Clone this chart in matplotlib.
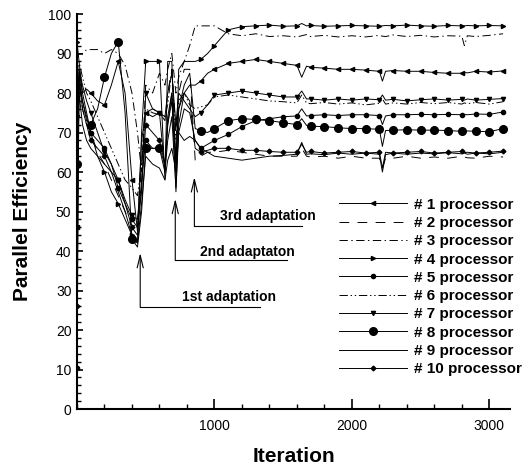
import matplotlib.pyplot as plt
from matplotlib.ticker import MultipleLocator

plt.rcParams['font.family'] = ['Liberation Sans', 'DejaVu Sans']
plt.rcParams['lines.scale_dashes'] = False

# iteration numbers where efficiency was sampled
iters = [0, 15, 40, 70, 100, 150, 200, 250, 300, 350, 400, 440, 470, 500, 550,
         600, 640, 660, 690, 720, 740, 780, 820, 860, 900, 950,
         1000, 1100, 1200, 1300, 1400, 1500, 1600, 1635, 1670, 1700, 1800, 1900,
         2000, 2100, 2200, 2222, 2245, 2300, 2400, 2500, 2600, 2700, 2800, 2818,
         2840, 2900, 3000, 3100]

p1 = [46, 86, 80, 81, 80, 78, 77, 82, 88, 80, 58, 45, 68, 75, 74, 75, 60, 72, 78, 62, 76, 80, 82, 82, 83, 85,
      86, 87.5, 88, 88.5, 88, 87.5, 87, 84, 86.8, 86.5, 86.3, 86, 86, 85.8, 85.5, 83, 85.5, 85.7, 85.5, 85.5,
      85.2, 85, 85, 85.2, 85.1, 85.5, 85.3, 85.6]
p2 = [82, 84, 76, 72, 70, 65, 62, 58, 54, 50, 46, 47, 62, 75, 76, 75, 73, 80, 86, 70, 80, 86, 86, 63, 64, 65,
      65, 65.5, 65, 64.5, 64, 64, 64, 66, 64, 63.8, 64, 63.5, 64, 63.5, 63.5, 61, 63.5, 63.5, 64, 63.5,
      63.8, 63.5, 64, 63.8, 63.6, 63.5, 64, 63.8]
p3 = [89, 90, 90, 91, 91, 91, 90, 91, 90, 87, 80, 70, 60, 82, 80, 85, 82, 86, 90, 80, 84, 88, 92, 97, 97, 97,
      97, 95, 94.5, 95, 94.3, 94.5, 94.2, 94.5, 94.8, 94.3, 94.6, 94.2, 94.5, 94.2, 94.6, 94.4, 94.3, 94.7,
      94.3, 94.6, 94.2, 94.5, 94.4, 92, 94.5, 94.3, 94.6, 95]
p4 = [93, 88, 80, 75, 70, 64, 60, 55, 52, 48, 44, 42, 70, 88, 88, 88, 58, 88, 88, 60, 86, 88, 88, 88, 88.5, 90,
      92, 96, 96.8, 97, 97.2, 96.9, 97, 97.6, 97, 97.1, 96.9, 97, 97.1, 97, 96.9, 97, 97.1, 97, 97.2, 97,
      96.9, 97.1, 97, 97, 97.1, 97, 97.1, 97]
p5 = [10.5, 85, 78, 74, 70, 68, 66, 62, 56, 52, 48, 46, 58, 68, 66, 66, 60, 68, 74, 56, 70, 76, 75, 68, 66, 67,
      68, 69.5, 71.5, 73, 73.5, 74, 74.2, 76, 74.2, 74.3, 74.5, 74.3, 74.5, 74.5, 74.3, 72, 74.2, 74.5,
      74.5, 74.6, 74.5, 74.6, 74.5, 74.6, 74.5, 74.7, 74.6, 75.2]
p6 = [85, 88, 84, 80, 78, 74, 70, 66, 62, 58, 56, 54, 62, 76, 75, 74.5, 74, 77, 86, 68, 78, 80, 77, 76, 76.5, 77,
      79, 79.5, 79, 78.5, 78, 77.8, 77.5, 79.5, 77.5, 77.3, 77.6, 77.2, 77.5, 77, 77.4, 78.5, 77.2, 77.5,
      77.2, 77.6, 77.3, 77.6, 77.2, 77.5, 77.3, 77.6, 77.2, 77.8]
p7 = [74, 86, 82, 78, 75, 70, 65, 62, 58, 53, 49, 48, 55, 80, 76, 75, 74, 80, 85, 72, 80, 78, 76, 74, 75, 77,
      79.5, 80, 80.5, 80, 79.5, 79, 79, 80.5, 78.5, 78.5, 78.2, 78.5, 78.2, 78.5, 78.3, 79.5, 78.2, 78.4,
      78, 78.3, 78.5, 78.2, 78.4, 78.2, 78.5, 78.2, 78.4, 78.6]
p8 = [62, 82, 78, 73, 72, 76, 84, 90, 93, 75, 43, 41, 50, 66, 66, 66, 62, 74, 80, 64, 76, 82, 85, 71, 70.5, 70,
      71, 73, 73.5, 73.3, 73, 72.5, 72, 73.5, 71.8, 71.6, 71.5, 71.2, 71, 71, 70.8, 66.5, 70.5, 70.6,
      70.7, 70.6, 70.6, 70.5, 70.3, 70.4, 70.4, 70.3, 70.2, 71]
p9 = [51, 80, 72, 68, 66, 64, 62, 60, 55, 50, 44, 42, 52, 64, 62, 61, 58, 63, 66, 60, 70, 68, 69, 68, 66, 65,
      64, 63.5, 63, 63.5, 64, 64.2, 64.5, 67.5, 64.5, 64.6, 64.4, 64.8, 64.5, 64.8, 64.5, 60, 64.4, 64.8,
      64.5, 64.8, 64.6, 64.9, 64.6, 64.8, 64.5, 64.8, 64.6, 65]
p10 = [26, 83, 76, 72, 68, 66, 64, 60, 58, 52, 46, 44, 56, 72, 70, 68, 62, 72, 80, 55, 72, 80, 78, 66, 65, 65.5,
       66, 66, 65.5, 65.5, 65.2, 65, 65, 67, 65, 65.2, 64.8, 65, 65.2, 64.8, 65, 61, 65, 64.8, 65, 65.2,
       64.8, 65, 65.2, 64.9, 65, 64.8, 65, 65.3]

series = [p1, p2, p3, p4, p5, p6, p7, p8, p9, p10]
labels = ['# %d processor' % (i + 1) for i in range(10)]

# line style, marker, marker size for each processor
styles = [
    ('-', '<', 3),
    ((0, (7, 6)), '', 0),
    ((0, (6, 2.5, 1, 2.5)), '', 0),
    ('-', '>', 3),
    ('-', 'o', 3),
    ((0, (6, 2, 1, 2, 1, 2)), '', 0),
    ('-', 'v', 3),
    ('-', 'o', 5.5),
    ('-', '', 0),
    ('-', 'D', 2.4),
]

marks = [i for i, x in enumerate(iters) if x % 100 == 0]

fig = plt.figure(figsize=(5.32, 4.69), dpi=100)
ax = fig.add_axes([0.1447, 0.1279, 0.8139, 0.8422])

for y, lab, (ls, mk, ms) in zip(series, labels, styles):
    ax.plot(iters, y, color='k', lw=0.7, ls=ls, marker=mk, ms=ms,
            markevery=marks, label=lab)

# adaptation arrows: label, x, arrow tip, foot, line end, text x, text y
notes = [
    ('1st adaptation', 460, 39.5, 25.8, 1328, 1106, 28.4),
    ('2nd adaptaton', 715, 53.2, 37.7, 1525, 1241, 39.7),
    ('3rd adaptation', 854, 58.7, 46.3, 1635, 1387, 48.9),
]
for txt, x, tip, foot, xend, tx, ty in notes:
    ax.annotate('', xy=(x, tip), xytext=(x, foot),
                arrowprops=dict(arrowstyle='->,head_length=0.9,head_width=0.22',
                                lw=0.8, color='k', shrinkA=0, shrinkB=0))
    ax.plot([x, xend], [foot, foot], color='k', lw=0.8)
    ax.text(tx, ty, txt, fontsize=10, fontweight='bold', ha='center', va='center')

ax.set_xlim(0, 3150)
ax.set_ylim(0, 100)
ax.set_xticks([1000, 2000, 3000])
ax.xaxis.set_minor_locator(MultipleLocator(200))
ax.yaxis.set_major_locator(MultipleLocator(10))
ax.yaxis.set_minor_locator(MultipleLocator(2))
ax.tick_params(axis='x', which='major', direction='in', length=7, width=1.2, pad=7, labelsize=10)
ax.tick_params(axis='x', which='minor', direction='in', length=3.5, width=1)
ax.tick_params(axis='y', which='major', direction='in', length=4, width=1.2, pad=4, labelsize=10)
ax.tick_params(axis='y', which='minor', direction='in', length=3, width=1)
for s in ['top', 'right']:
    ax.spines[s].set_visible(False)
for s in ['left', 'bottom']:
    ax.spines[s].set_linewidth(1.5)

ax.set_xlabel('Iteration', fontsize=15, fontweight='bold', labelpad=10)
ax.set_ylabel('Parallel Efficiency', fontsize=15, fontweight='bold', labelpad=12)

ax.legend(loc='upper left', bbox_to_anchor=(0.606, 0.535), frameon=False,
          prop={'weight': 'bold', 'size': 11}, handlelength=4.4,
          handletextpad=0.5, labelspacing=0.28, borderpad=0, borderaxespad=0)

fig.savefig('out.png', dpi=100)
